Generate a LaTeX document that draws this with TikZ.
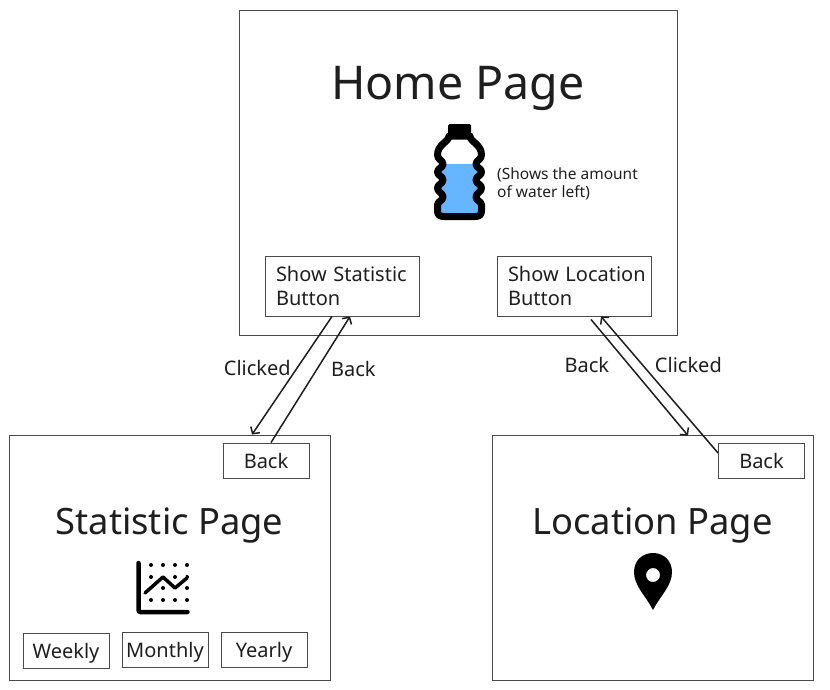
\documentclass[tikz,border=0pt]{standalone}
\usepackage{fontspec}
\setmainfont{Noto Sans}
\usepackage{xcolor}
\usetikzlibrary{arrows.meta}
\definecolor{inkgray}{HTML}{1E1E1E}
\definecolor{edgegray}{HTML}{4A4A4A}
\definecolor{waterblue}{HTML}{66B5FF}
\tikzstyle{page} = [rectangle,
minimum width=321pt,
minimum height=245pt,
draw=edgegray,
line width=0.9pt]
\tikzstyle{mainbutton} = [rectangle,
minimum width=154pt,
minimum height=60pt,
inner xsep=11pt,
inner ysep=0pt,
text width=132pt,
align=left,
draw=edgegray,
line width=0.9pt,
text=inkgray,
font=\fontsize{20}{24}\selectfont]
\tikzstyle{smallbutton} = [rectangle,
minimum width=86pt,
minimum height=35pt,
inner sep=0pt,
text height=15pt,
text depth=0pt,
text centered,
draw=edgegray,
line width=0.9pt,
text=inkgray,
font=\fontsize{20}{24}\selectfont]
\tikzstyle{title} = [text=inkgray, inner sep=0pt, font=\fontsize{36.3}{40}\selectfont]
\tikzstyle{note} = [text=inkgray, inner sep=0pt, align=left, font=\fontsize{15.5}{18}\selectfont]
\tikzstyle{linklabel} = [text=inkgray, font=\fontsize{20}{22}\selectfont]
\tikzstyle{arrow} = [line width=1.5pt,-{Straight Barb[length=5pt,width=11pt]},draw=inkgray]
% outline of the bottle
\newcommand{\bottleline}{(449,136) .. controls (449,142) and (437.5,144) .. (437.5,155)
.. controls (437.5,160) and (443,160) .. (443,164)
.. controls (443,168) and (437.5,168) .. (437.5,172)
.. controls (437.5,176) and (443,176) .. (443,180)
.. controls (443,184) and (437.5,184) .. (437.5,188)
.. controls (437.5,192) and (443,193) .. (443,197)
.. controls (443,201) and (437.5,201) .. (437.5,205)
-- (437.5,211) .. controls (437.5,215) and (440,216.5) .. (444,216.5)
-- (475,216.5) .. controls (479,216.5) and (481.5,215) .. (481.5,211)
-- (481.5,205) .. controls (481.5,201) and (476,201) .. (476,197)
.. controls (476,193) and (481.5,192) .. (481.5,188)
.. controls (481.5,184) and (476,184) .. (476,180)
.. controls (476,176) and (481.5,176) .. (481.5,172)
.. controls (481.5,168) and (476,168) .. (476,164)
.. controls (476,160) and (481.5,160) .. (481.5,155)
.. controls (481.5,144) and (470,142) .. (470,136) -- cycle}

\begin{document}
\begin{tikzpicture}[x=1pt,y=-1pt,node distance=100pt]
\useasboundingbox (0,0) rectangle (830,689);

\node (home) [page, minimum width=438pt, minimum height=325pt] at (458,172.5) {};
\node (statpage) [page, below of=home, xshift=-288.5pt, yshift=-285pt] {};
\node (locpage) [page, below of=home, xshift=194.5pt, yshift=-285pt] {};

\node (hometitle) [title, below of=home, yshift=184pt, font=\fontsize{46.5}{50}\selectfont] {Home Page};
\node (statbtn) [mainbutton, below of=home, xshift=-116pt, yshift=-13.5pt] {Show Statistic\\Button};
\node (locbtn) [mainbutton, below of=home, xshift=116pt, yshift=-13.5pt] {\mbox{Show Location}\\Button};
\node (waternote) [note, anchor=west] at (497,184) {(Shows the amount\\of water left)};

\node (stattitle) [title, below of=statpage, yshift=132pt] {Statistic Page};
\node (backstat) [smallbutton, below of=statpage, xshift=96.5pt, yshift=197pt] {Back};
\node (weekly) [smallbutton, below of=statpage, xshift=-103.5pt, yshift=7pt] {Weekly};
\node (monthly) [smallbutton, right of=weekly, xshift=-1pt, yshift=0.5pt] {Monthly};
\node (yearly) [smallbutton, right of=monthly, xshift=-1pt] {Yearly};

\node (loctitle) [title, below of=locpage, yshift=132pt] {Location Page};
\node (backloc) [smallbutton, below of=locpage, xshift=109pt, yshift=197pt] {Back};

% bottle
\begin{scope}
\clip \bottleline;
\fill [waterblue] (430,164) rectangle (490,220);
\end{scope}
\draw [line width=7pt, line join=round] \bottleline;
\fill [rounded corners=1.5pt] (448,124) rectangle (471,138);

% chart icon
\foreach \px in {151,163,175,187} {
\foreach \py in {565,577,588,600} {
\fill (\px,\py) circle (2);
}
}
\draw [white, line width=6.5pt] (145,593) -- (163,577) -- (175,588) -- (187,578);
\draw [line width=3.5pt, line cap=round, line join=round] (145,593) -- (163,577) -- (175,588) -- (187,578);
\draw [line width=4.5pt, line cap=round, rounded corners=2pt] (138.5,563) -- (138.5,612) -- (187.5,612);

% pin icon
\fill [even odd rule] (653,610) .. controls (646,596) and (634,586) .. (634,572)
.. controls (634,561) and (642,553) .. (653,553)
.. controls (664,553) and (672,561) .. (672,572)
.. controls (672,586) and (660,596) .. (653,610) -- cycle
(653,575) circle (7);

\draw [arrow] ([xshift=-10pt]statbtn.south) -- node[linklabel, anchor=east, pos=.44, xshift=-2pt] {Clicked} ([xshift=82.5pt]statpage.north);
\draw [arrow] ([xshift=5pt]backstat.north) -- node[linklabel, anchor=west, pos=.583, xshift=10pt] {Back} ([xshift=8pt]statbtn.south);
\draw [arrow] ([xshift=17pt,yshift=-3pt]locbtn.south) -- node[linklabel, anchor=east, pos=.393, xshift=-16pt] {Back} ([xshift=35.5pt,yshift=-1pt]locpage.north);
\draw [arrow] ([yshift=7.5pt]backloc.west) -- node[linklabel, anchor=west, pos=.642, xshift=8pt] {Clicked} ([xshift=27pt]locbtn.south);

\end{tikzpicture}
\end{document}
